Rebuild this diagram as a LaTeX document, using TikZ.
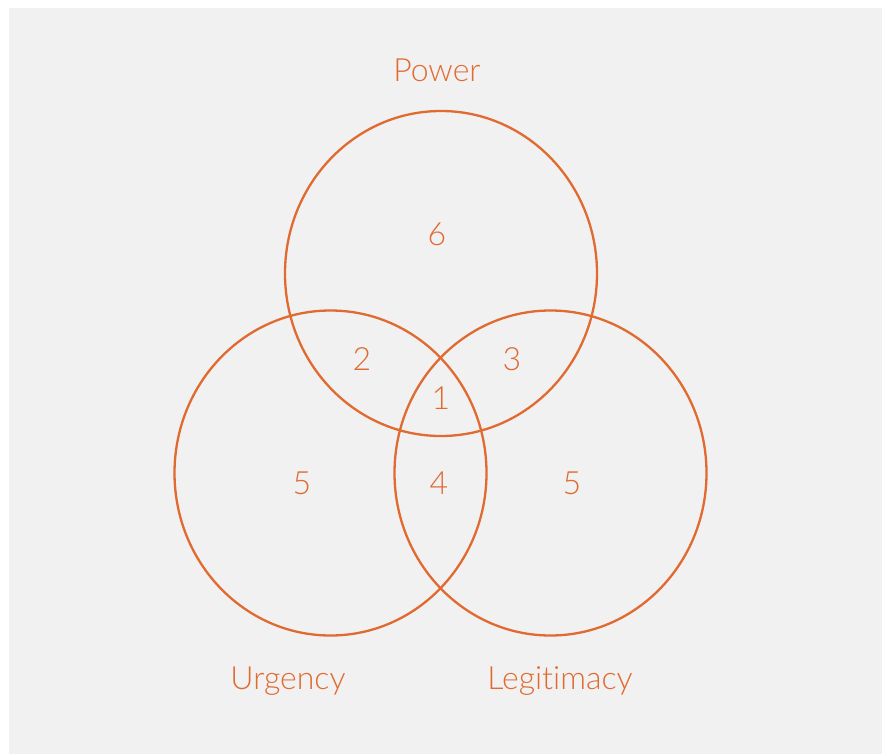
\documentclass[tikz,border=0pt]{standalone}
\usepackage{fontspec}
\setmainfont{Lato Light}[RawFeature={-liga;-dlig}]
\definecolor{org}{RGB}{224,106,48}
\definecolor{bg}{RGB}{241,241,241}
\begin{document}
\begin{tikzpicture}[x=1pt,y=-1pt,
  ring/.style={draw=org,line width=2.3pt},
  lbl/.style={text=org,font=\fontsize{32}{36}\selectfont,anchor=base,inner sep=0pt}]
\useasboundingbox (0,0) rectangle (882,754);
\fill[bg] (9,8) rectangle (882,754);
\draw[ring] (441,273.5) ellipse [x radius=156, y radius=162.5];
\draw[ring] (330.5,473) ellipse [x radius=156, y radius=162.5];
\draw[ring] (550.5,473) ellipse [x radius=156, y radius=162.5];
\node[lbl] (power) at (437,82) {Power};
\node[lbl] (urg) at (288,689) {Urgency};
\node[lbl] (leg) at (560,689) {Legitimacy};
\node[lbl] (n6) at (437,245) {6};
\node[lbl] (n2) at (362,370) {2};
\node[lbl] (n3) at (512,370) {3};
\node[lbl] (n1) at (441,409) {1};
\node[lbl] (n5a) at (302,494) {5};
\node[lbl] (n4) at (439,494) {4};
\node[lbl] (n5b) at (572,494) {5};
\end{tikzpicture}
\end{document}
